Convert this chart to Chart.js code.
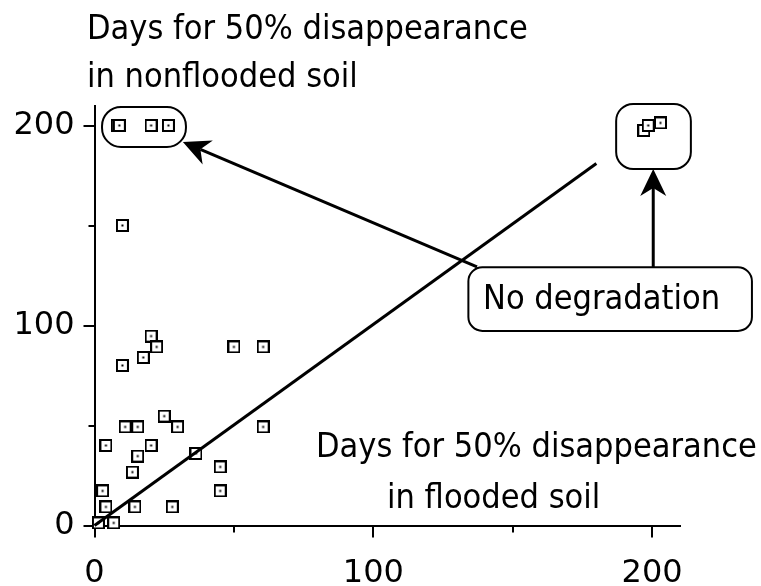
<!DOCTYPE html>
<html>
<head>
<meta charset="utf-8">
<script src="https://cdn.jsdelivr.net/npm/chart.js@4.4.0/dist/chart.umd.min.js"></script>
<style>
  html, body { margin: 0; padding: 0; background: #fff; }
  canvas { display: block; }
</style>
</head>
<body>
<canvas id="chart" width="761" height="586"></canvas>
<script>
// days for 50% disappearance: flooded soil (x) vs nonflooded soil (y)
const floodedDays = [8.2, 8.9, 20.3, 26.5, 197, 198.6, 203, 10, 20.3, 22.3, 17.5, 10, 50, 60.5,
  25, 11, 15.5, 29.8, 60.5, 4.1, 20.3, 15.5, 36.4, 45.1, 13.6, 2.9, 45.1, 4.1, 14.5, 27.9, 1.4, 6.9];
const nonfloodedDays = [200, 200, 200, 200, 197.5, 200, 201.3, 150, 94.7, 89.3, 84, 80, 89.3, 89.3,
  54.7, 49.3, 49.3, 49.3, 49.3, 40, 40, 34.7, 36, 29.3, 26.7, 17.3, 17.3, 9.3, 9.3, 9.3, 1.3, 1.3];
const lineX = [0, 180];
const lineY = [0, 181];
const majorTicks = [0, 100, 200];
const minorTicks = [50, 150];

const TICK_FONT = '"DejaVu Sans", Verdana, sans-serif';
const TEXT_FONT = '"DejaVu Sans Condensed", "Liberation Sans", sans-serif';

// square marker with a dot in the middle
function makeMarker() {
  const c = document.createElement("canvas");
  c.width = 13;
  c.height = 13;
  const g = c.getContext("2d");
  g.fillStyle = "#000";
  g.fillRect(0, 0, 13, 13);
  g.fillStyle = "#fff";
  g.fillRect(2, 2, 9, 9);
  g.fillStyle = "#000";
  g.fillRect(5.5, 5.5, 2, 2);
  return c;
}

function roundRect(ctx, x, y, w, h, r) {
  ctx.beginPath();
  ctx.moveTo(x + r, y);
  ctx.arcTo(x + w, y, x + w, y + h, r);
  ctx.arcTo(x + w, y + h, x, y + h, r);
  ctx.arcTo(x, y + h, x, y, r);
  ctx.arcTo(x, y, x + w, y, r);
  ctx.closePath();
  ctx.stroke();
}

function arrow(ctx, x1, y1, x2, y2) {
  const a = Math.atan2(y2 - y1, x2 - x1);
  const c = Math.cos(a), s = Math.sin(a);
  const len = 27, half = 13, notch = 19;
  ctx.beginPath();
  ctx.moveTo(x1, y1);
  ctx.lineTo(x2 - c * notch, y2 - s * notch);
  ctx.stroke();
  ctx.beginPath();
  ctx.moveTo(x2, y2);
  ctx.lineTo(x2 - len * c + half * s, y2 - len * s - half * c);
  ctx.lineTo(x2 - notch * c, y2 - notch * s);
  ctx.lineTo(x2 - len * c - half * s, y2 - len * s + half * c);
  ctx.closePath();
  ctx.fill();
}

// callout boxes and arrows, in data units
const boxes = [
  { x1: 2.7, x2: 32.8, y1: 189.3, y2: 209.3, r: 19 },
  { x1: 187.1, x2: 213.9, y1: 178.3, y2: 210.8, r: 17 },
  { x1: 134.1, x2: 235.8, y1: 97.3, y2: 129.1, r: 14 }
];
const arrows = [
  { x1: 137.2, y1: 129.3, x2: 31.7, y2: 191.8 },
  { x1: 200.4, y1: 129.1, x2: 200.4, y2: 178.3 }
];

const annotations = {
  id: "annotations",
  afterDatasetsDraw(chart) {
    const ctx = chart.ctx;
    const xs = chart.scales.x, ys = chart.scales.y;
    ctx.save();
    ctx.strokeStyle = "#000";
    ctx.fillStyle = "#000";
    ctx.lineWidth = 2;

    // minor ticks
    minorTicks.forEach((v) => {
      const py = Math.round(ys.getPixelForValue(v));
      ctx.beginPath();
      ctx.moveTo(ys.right - 6, py);
      ctx.lineTo(ys.right, py);
      ctx.stroke();
      const px = Math.round(xs.getPixelForValue(v));
      ctx.beginPath();
      ctx.moveTo(px, xs.top);
      ctx.lineTo(px, xs.top + 7);
      ctx.stroke();
    });

    boxes.forEach((b) => {
      const left = xs.getPixelForValue(b.x1), right = xs.getPixelForValue(b.x2);
      const top = ys.getPixelForValue(b.y2), bottom = ys.getPixelForValue(b.y1);
      roundRect(ctx, left, top, right - left, bottom - top, b.r);
    });
    ctx.lineWidth = 3;
    arrows.forEach((a) => {
      arrow(ctx, xs.getPixelForValue(a.x1), ys.getPixelForValue(a.y1),
        xs.getPixelForValue(a.x2), ys.getPixelForValue(a.y2));
    });

    ctx.font = "34px " + TEXT_FONT;
    ctx.textAlign = "left";
    ctx.textBaseline = "alphabetic";
    ctx.fillText("Days for 50% disappearance", 87, 38.5);
    ctx.fillText("in nonflooded soil", 87, 87.3);
    ctx.fillText("Days for 50% disappearance", 316, 456.7);
    ctx.fillText("in flooded soil", 387, 508);
    ctx.fillText("No degradation", 483, 309.3);
    ctx.restore();
  }
};

const points = floodedDays.map((x, i) => ({ x: x, y: nonfloodedDays[i] }));
const linePoints = lineX.map((x, i) => ({ x: x, y: lineY[i] }));

const axisStyle = {
  type: "linear",
  min: 0,
  max: 210,
  border: { display: true, color: "#000", width: 2 },
  grid: { drawOnChartArea: false, color: "#000", tickColor: "#000", lineWidth: 2, tickWidth: 2 },
  afterBuildTicks: (s) => { s.ticks = majorTicks.map((v) => ({ value: v })); },
  ticks: {
    color: "#000",
    font: { family: TICK_FONT, size: 32 },
    callback: (v) => String(v)
  }
};

new Chart(document.getElementById("chart"), {
  type: "scatter",
  data: {
    datasets: [
      {
        type: "line",
        data: linePoints,
        borderColor: "#000",
        borderWidth: 3,
        pointRadius: 0,
        fill: false,
        clip: false,
        order: 0
      },
      {
        data: points,
        pointStyle: makeMarker(),
        pointRadius: 6,
        clip: false,
        order: 1
      }
    ]
  },
  options: {
    responsive: false,
    animation: false,
    devicePixelRatio: 1,
    layout: { padding: { left: 0, right: 81, top: 105.5, bottom: 0 } },
    plugins: { legend: { display: false }, tooltip: { enabled: false } },
    scales: {
      x: Object.assign({}, axisStyle, {
        position: "bottom",
        grid: Object.assign({}, axisStyle.grid, { tickLength: 12 }),
        ticks: Object.assign({}, axisStyle.ticks, { padding: 17, maxRotation: 0, autoSkip: false }),
        afterFit: (s) => { s.height = 60.5; }
      }),
      y: Object.assign({}, axisStyle, {
        position: "left",
        grid: Object.assign({}, axisStyle.grid, { tickLength: 11 }),
        ticks: Object.assign({}, axisStyle.ticks, { padding: 9, autoSkip: false }),
        afterFit: (s) => { s.width = 94.5; }
      })
    }
  },
  plugins: [annotations]
});
</script>
</body>
</html>
